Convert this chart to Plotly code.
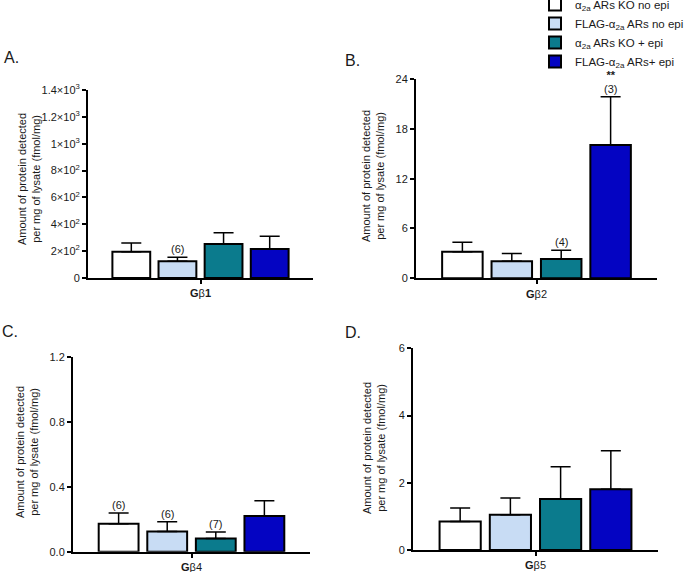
import plotly.graph_objects as go

W, H = 685, 572

groups = ["α<sub>2a</sub> ARs KO no epi", "FLAG-α<sub>2a</sub> ARs no epi",
          "α<sub>2a</sub> ARs KO + epi", "FLAG-α<sub>2a</sub> ARs+ epi"]
colors = ["#ffffff", "#c8dcf4", "#0b7b8d", "#0404c2"]

cat_A = ["<b>G</b>β<b>1</b>"]
cat_B = ["<b>G</b>β2"]
cat_C = ["<b>G</b>β4"]
cat_D = ["<b>G</b>β5"]

mean_A = [195, 124, 253, 216]
err_A = [65, 30, 84, 94]
mean_B = [3.2, 2.05, 2.32, 16.05]
err_B = [1.13, 0.95, 1.05, 5.82]
mean_C = [0.172, 0.125, 0.082, 0.22]
err_C = [0.066, 0.060, 0.039, 0.094]
mean_D = [0.85, 1.05, 1.52, 1.81]
err_D = [0.40, 0.50, 0.96, 1.14]

ticks_A = [0, 200, 400, 600, 800, 1000, 1200, 1400]
ticktext_A = ["0", "2×10<sup>2</sup>", "4×10<sup>2</sup>", "6×10<sup>2</sup>", "8×10<sup>2</sup>",
              "1×10<sup>3</sup>", "1.2×10<sup>3</sup>", "1.4×10<sup>3</sup>"]
ticks_B = [0, 6, 12, 18, 24]
ticks_C = [0, 0.4, 0.8, 1.2]
ticktext_C = ["0.0", "0.4", "0.8", "1.2"]
ticks_D = [0, 2, 4, 6]

# n labels per bar index
nlabels_A = {1: "(6)"}
nlabels_B = {2: "(4)", 3: "<b>**</b><br>(3)"}
nlabels_C = {0: "(6)", 1: "(6)", 2: "(7)"}

FONT = "Liberation Sans, Arial, sans-serif"
TXT = "#1a1a1a"
fig = go.Figure()

panels = [
    ("x", "y", cat_A, mean_A, err_A, True),
    ("x2", "y2", cat_B, mean_B, err_B, False),
    ("x3", "y3", cat_C, mean_C, err_C, False),
    ("x4", "y4", cat_D, mean_D, err_D, False),
]
for xa, ya, cat, means, errs, show in panels:
    for i in range(4):
        fig.add_trace(go.Bar(
            x=cat, y=[means[i]], name=groups[i], legendgroup=groups[i],
            showlegend=show, xaxis=xa, yaxis=ya,
            marker=dict(color=colors[i], line=dict(color="black", width=2)),
            error_y=dict(type="data", symmetric=False, array=[errs[i]], arrayminus=[0],
                         color="black", thickness=1.5, width=10),
        ))

def px_x(p):
    return p / W

def px_y(p):
    return 1 - p / H

axis_common = dict(showline=True, linecolor="black", linewidth=2, ticks="outside",
                   ticklen=4, tickwidth=2, tickcolor="black", showgrid=False,
                   zeroline=False, automargin=False,
                   tickfont=dict(family=FONT, size=11, color=TXT))

fig.update_layout(
    width=W, height=H, margin=dict(l=0, r=0, t=0, b=0, autoexpand=False),
    plot_bgcolor="white", paper_bgcolor="white",
    barmode="group", bargap=0.18, bargroupgap=0.18,
    font=dict(family=FONT, size=11, color=TXT),
    showlegend=True,
    legend=dict(x=px_x(535), y=1 + 10 / H, xanchor="left", yanchor="top",
                font=dict(family=FONT, size=11.5, color=TXT),
                bgcolor="rgba(0,0,0,0)", tracegroupgap=0, itemwidth=30),
    xaxis=dict(domain=[px_x(88), px_x(313)], anchor="y", **axis_common),
    yaxis=dict(domain=[px_y(278), px_y(90)], anchor="x", range=[0, 1400],
               tickvals=ticks_A, ticktext=ticktext_A, **axis_common),
    xaxis2=dict(domain=[px_x(416), px_x(657)], anchor="y2", **axis_common),
    yaxis2=dict(domain=[px_y(278.3), px_y(79)], anchor="x2", range=[0, 24],
                tickvals=ticks_B, **axis_common),
    xaxis3=dict(domain=[px_x(73), px_x(310)], anchor="y3", **axis_common),
    yaxis3=dict(domain=[px_y(551.7), px_y(356.7)], anchor="x3", range=[0, 1.2],
                tickvals=ticks_C, ticktext=ticktext_C, **axis_common),
    xaxis4=dict(domain=[px_x(413), px_x(658)], anchor="y4", **axis_common),
    yaxis4=dict(domain=[px_y(550), px_y(348.3)], anchor="x4", range=[0, 6],
                tickvals=ticks_D, **axis_common),
)

# bar centre offsets within the single category (grouped)
slot = (1 - 0.18) / 4
offsets = [-0.5 * (1 - 0.18) + slot * (i + 0.5) for i in range(4)]

anns = []
for xa, ya, means, errs, labels in [("x", "y", mean_A, err_A, nlabels_A),
                                    ("x2", "y2", mean_B, err_B, nlabels_B),
                                    ("x3", "y3", mean_C, err_C, nlabels_C)]:
    for i, t in labels.items():
        anns.append(dict(x=offsets[i], y=means[i] + errs[i], xref=xa, yref=ya,
                         text=t, showarrow=False, yanchor="bottom", yshift=0,
                         font=dict(family=FONT, size=11, color=TXT)))

ytitle = "Amount of protein detected<br>per mg of lysate (fmol/mg)"
for xc, yc in [(29, 179), (373, 176), (27, 452), (374, 448)]:
    anns.append(dict(x=px_x(xc), y=px_y(yc), xref="paper", yref="paper", text=ytitle,
                     textangle=-90, showarrow=False, xanchor="center", yanchor="middle",
                     font=dict(family=FONT, size=11, color=TXT)))

for txt, xc, yc in [("A.", 2, 57), ("B.", 343, 60), ("C.", 0, 331), ("D.", 343, 332)]:
    anns.append(dict(x=px_x(xc), y=px_y(yc), xref="paper", yref="paper", text=txt,
                     showarrow=False, xanchor="left", yanchor="middle",
                     font=dict(family=FONT, size=16, color=TXT)))

fig.update_layout(annotations=anns)
fig.write_html("out.html", config={"displayModeBar": False},
               post_script="document.body.style.margin='0';document.body.style.overflow='hidden';")
